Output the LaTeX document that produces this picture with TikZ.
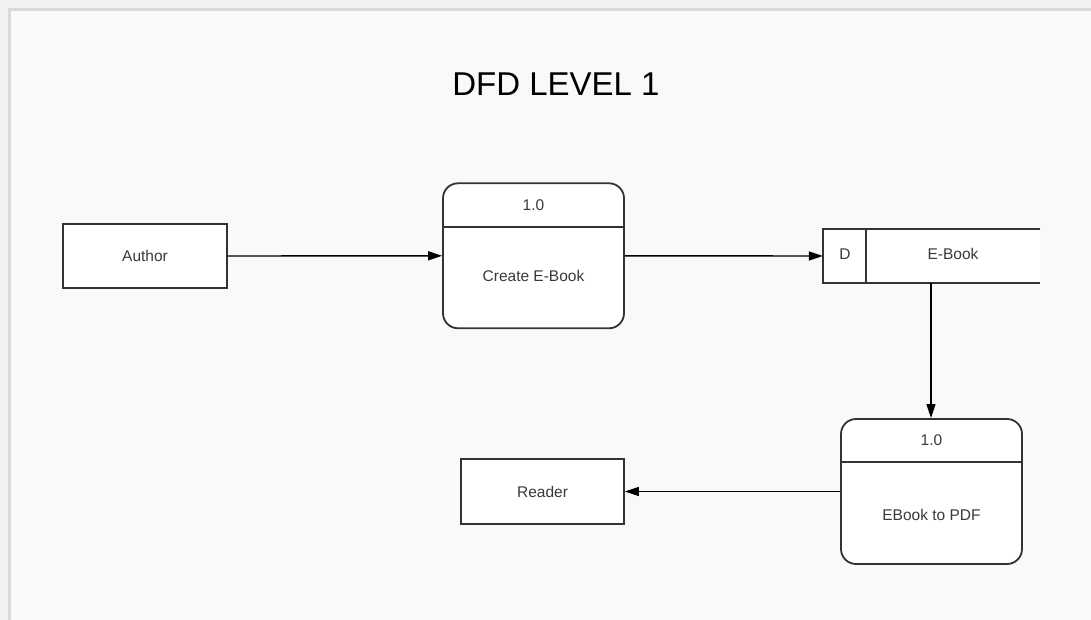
\documentclass[tikz,border=0pt]{standalone}
\usepackage{fontspec}
\setmainfont{Liberation Sans}
\usetikzlibrary{arrows.meta}
\definecolor{pagebg}{HTML}{F9F9F9}
\definecolor{outerbg}{HTML}{F1F1F1}
\definecolor{framec}{HTML}{D9D9D9}
\definecolor{linec}{HTML}{333333}
\definecolor{txtc}{HTML}{3A3A3A}
\tikzset{
  entity/.style={draw=linec, line width=1.8pt, fill=white, rectangle, inner sep=0pt},
  procbox/.style={draw=linec, line width=1.8pt, fill=white, rectangle, rounded corners=15pt, inner sep=0pt, minimum width=181pt, minimum height=145pt},
  lbl/.style={text=txtc, font=\fontsize{15.5}{18}\selectfont, inner sep=0pt},
  flow/.style={draw=black, line width=1.4pt, -{Triangle[length=14pt,width=9pt]}},
  divider/.style={draw=linec, line width=1.8pt},
}
\begin{document}
\begin{tikzpicture}[x=1pt,y=-1pt]
\useasboundingbox (0,0) rectangle (1091,620);
\fill[outerbg] (0,0) rectangle (1091,620);
\fill[pagebg] (9,9) rectangle (1091,620);
\draw[framec, line width=2.5pt] (9.5,620) -- (9.5,9.5) -- (1091,9.5);

\node[font=\fontsize{33}{38}\selectfont, text=black, inner sep=0pt] (title) at (556,84) {DFD LEVEL 1};

% Author
\node[entity, minimum width=164pt, minimum height=64pt] (author) at (145,256) {};
\node[lbl] (authort) at (author.center) {Author};

% Create E-Book process
\node[procbox] (create) at (533.5,255.8) {};
\draw[divider] (create.west |- 0,227.3) coordinate (cdl) -- (create.east |- 0,227.3) coordinate (cdr);
\node[lbl] (createid) at (533.5,205) {1.0};
\node[lbl] (createt) at (533.5,276) {Create E-Book};

% Data store
\node[draw=none, fill=white, rectangle, inner sep=0pt, minimum width=217pt, minimum height=54pt] (store) at (931.5,256) {};
\draw[divider] (store.north east) -- (store.north west) -- (store.south west) -- (store.south east);
\draw[divider] (866,229) coordinate (sdt) -- (866,283) coordinate (sdb);
\node[lbl] (storeid) at (845,254) {D};
\node[lbl] (storet) at (953,254) {E-Book};

% EBook to PDF process
\node[procbox] (pdf) at (931.5,491.5) {};
\draw[divider] (pdf.west |- 0,462) coordinate (pdl) -- (pdf.east |- 0,462) coordinate (pdr);
\node[lbl] (pdfid) at (931.5,440) {1.0};
\node[lbl] (pdft) at (931.5,515) {EBook to PDF};

% Reader
\node[entity, minimum width=163pt, minimum height=65pt] (reader) at (542.5,491.5) {};
\node[lbl] (readert) at (reader.center) {Reader};

% Flows
\draw[flow] (author.east) -- (create.west);
\draw[flow] (create.east) -- (store.west);
\draw[flow] (store.south -| 931,0) -- (pdf.north -| 931,0);
\draw[flow] (pdf.west) -- (reader.east);
\end{tikzpicture}
\end{document}
